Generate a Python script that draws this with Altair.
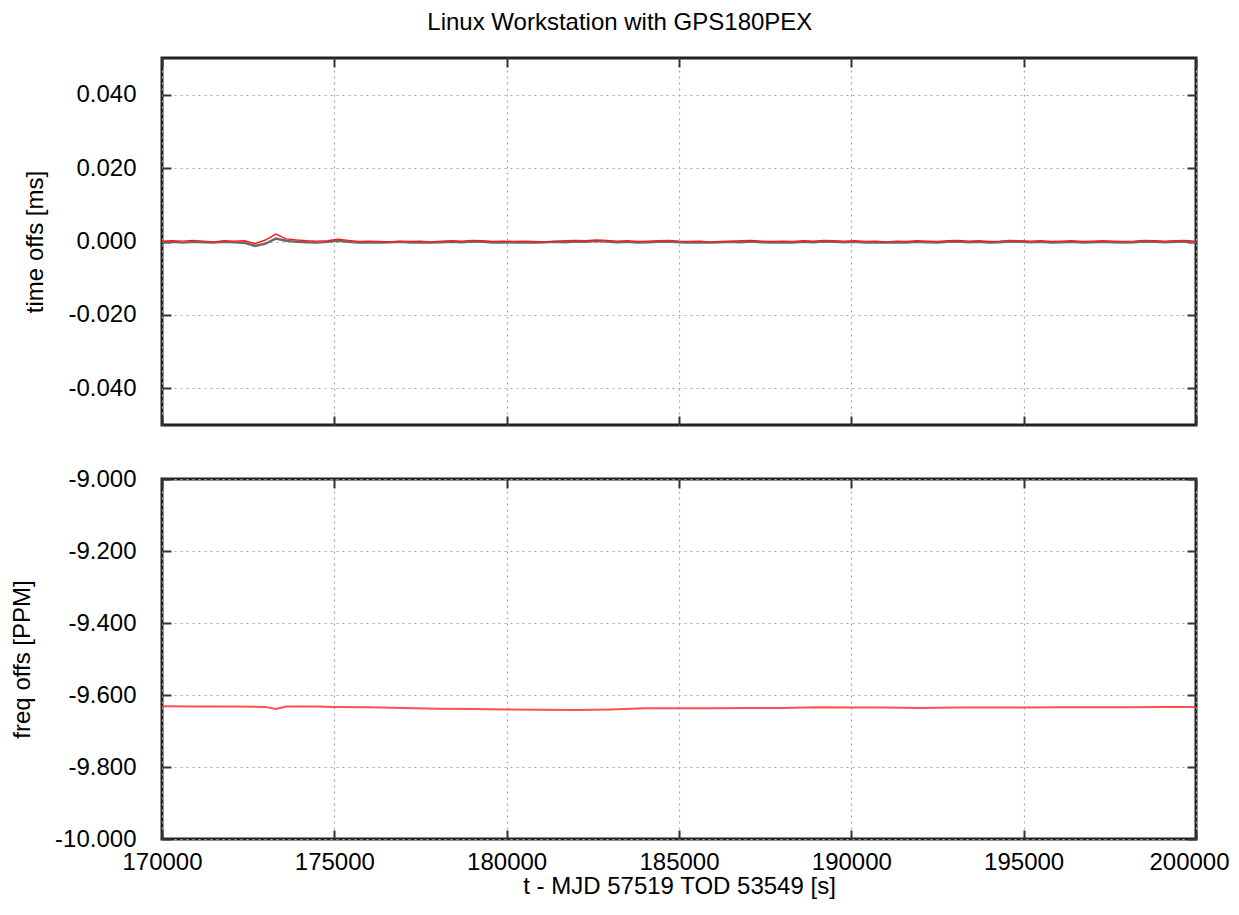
import altair as alt
import pandas as pd

# ---------------- data ----------------
t_x = [170000 + 300 * i for i in range(101)]

time_red = [
    0.0001, 0.0002, 0.0001, 0.0003, 0.0001, -0.0001, 0.0002, 0.0001, 0.0002, -0.0006,
    0.0004, 0.0020, 0.0007, 0.0004, 0.0002, 0.0001, 0.0002, 0.0006, 0.0003, 0.0000,
    0.0001, 0.0000, -0.0001, 0.0001, 0.0000, 0.0001, -0.0001, 0.0001, 0.0002, 0.0001,
    0.0003, 0.0002, 0.0000, 0.0001, 0.0000, 0.0001, 0.0000, -0.0001, 0.0001, 0.0002,
    0.0003, 0.0002, 0.0004, 0.0003, 0.0001, 0.0002, 0.0000, 0.0001, 0.0002, 0.0003,
    0.0001, 0.0000, 0.0001, -0.0001, 0.0000, 0.0001, 0.0002, 0.0003, 0.0001, 0.0000,
    0.0001, 0.0000, 0.0002, 0.0001, 0.0003, 0.0002, 0.0001, 0.0002, 0.0000, 0.0001,
    -0.0001, 0.0001, 0.0000, 0.0002, 0.0001, 0.0000, 0.0002, 0.0003, 0.0001, 0.0002,
    0.0000, 0.0001, 0.0003, 0.0002, 0.0001, 0.0002, 0.0000, 0.0001, 0.0002, 0.0000,
    0.0001, 0.0002, 0.0001, 0.0000, 0.0001, 0.0003, 0.0002, 0.0001, 0.0002, 0.0003,
    0.0000,
]

time_gray = [
    -0.0002, -0.0001, -0.0003, -0.0001, -0.0002, -0.0003, -0.0001, -0.0002, -0.0004, -0.0012,
    -0.0006, 0.0008, 0.0002, -0.0001, -0.0002, -0.0003, -0.0001, 0.0002, -0.0001, -0.0003,
    -0.0002, -0.0003, -0.0002, -0.0001, -0.0003, -0.0002, -0.0003, -0.0002, -0.0001, -0.0002,
    0.0000, -0.0001, -0.0003, -0.0002, -0.0003, -0.0002, -0.0003, -0.0002, -0.0001, -0.0002,
    0.0000, -0.0001, 0.0001, 0.0000, -0.0002, -0.0001, -0.0003, -0.0002, -0.0001, 0.0000,
    -0.0002, -0.0003, -0.0002, -0.0003, -0.0002, -0.0001, -0.0002, 0.0000, -0.0002, -0.0003,
    -0.0002, -0.0003, -0.0001, -0.0002, 0.0000, -0.0001, -0.0002, -0.0001, -0.0003, -0.0002,
    -0.0003, -0.0002, -0.0003, -0.0001, -0.0002, -0.0003, -0.0001, 0.0000, -0.0002, -0.0001,
    -0.0003, -0.0002, 0.0000, -0.0001, -0.0002, -0.0001, -0.0003, -0.0002, -0.0001, -0.0003,
    -0.0002, -0.0001, -0.0002, -0.0003, -0.0002, 0.0000, -0.0001, -0.0002, -0.0001, 0.0000,
    -0.0002,
]

f_x = [170000, 171000, 172000, 173000, 173300, 173600, 174500, 175000, 176000, 177000,
       178000, 179000, 180000, 181000, 182000, 183000, 184000, 185000, 186000, 187000,
       188000, 189000, 190000, 191000, 192000, 193000, 194000, 195000, 196000, 197000,
       198000, 199000, 200000]
freq = [-9.631, -9.632, -9.632, -9.633, -9.639, -9.632, -9.632, -9.633, -9.634, -9.636,
        -9.638, -9.639, -9.640, -9.641, -9.642, -9.640, -9.637, -9.637, -9.637, -9.636,
        -9.636, -9.634, -9.635, -9.635, -9.636, -9.635, -9.635, -9.635, -9.634, -9.634,
        -9.634, -9.633, -9.633]

x_ticks = [170000, 175000, 180000, 185000, 190000, 195000, 200000]
t_ticks = [-0.04, -0.02, 0.0, 0.02, 0.04]
f_ticks = [-10.0, -9.8, -9.6, -9.4, -9.2, -9.0]

df_t = pd.DataFrame({"x": t_x, "red": time_red, "gray": time_gray})
df_f = pd.DataFrame({"x": f_x, "freq": freq})

FONT = "Liberation Sans"
FS = 24
lbl = "replace(format(datum.value, '.3f'), '\u2212', '-')"
TK = 9          # inward tick length
TC = "#333333"

xs = alt.Scale(domain=[170000, 200000], nice=False, zero=False)
ts = alt.Scale(domain=[-0.05, 0.05], nice=False, zero=False)
fs = alt.Scale(domain=[-10, -9], nice=False, zero=False)


def mirror_x():
    return alt.Axis(orient="top", values=x_ticks, labels=False, grid=False, domain=False,
                    title=None, ticks=True, tickSize=TK, offset=-TK, tickColor=TC,
                    tickWidth=2, minExtent=0, maxExtent=0)


def mirror_y(vals):
    return alt.Axis(orient="right", values=vals, labels=False, grid=False, domain=False,
                    title=None, ticks=True, tickSize=TK, offset=-TK, tickColor=TC,
                    tickWidth=2, minExtent=0, maxExtent=0)


def main_y(vals, title):
    return alt.Axis(orient="left", values=vals, labelExpr=lbl, ticks=True, tickSize=TK,
                    offset=-TK, tickColor=TC, tickWidth=2, domain=False, title=title,
                    grid=True, labelPadding=26, titlePadding=20, labelFlush=False)


# ---------- top panel ----------
base_t = alt.Chart(df_t)
gray = base_t.mark_line(color="#6a6a6a", strokeWidth=2.4).encode(
    x=alt.X("x:Q", scale=xs,
            axis=alt.Axis(orient="bottom", values=x_ticks, labels=False, ticks=True,
                          tickSize=TK, offset=-TK, tickColor=TC, tickWidth=2,
                          domain=False, title=None, grid=True, minExtent=0, maxExtent=0)),
    y=alt.Y("gray:Q", scale=ts, axis=main_y(t_ticks, "time offs [ms]")),
)
red = base_t.mark_line(color="#ff1a1a", strokeWidth=1.4).encode(
    x=alt.X("x:Q", scale=xs, axis=mirror_x()),
    y=alt.Y("red:Q", scale=ts, axis=mirror_y(t_ticks)),
)
top = alt.layer(gray, red).resolve_axis(x="independent", y="independent").properties(
    width=1034, height=367)

# ---------- bottom panel ----------
base_f = alt.Chart(df_f)
fline = base_f.mark_line(color="#ff3030", strokeWidth=2, opacity=0.85).encode(
    x=alt.X("x:Q", scale=xs,
            axis=alt.Axis(orient="bottom", values=x_ticks, format="d", ticks=True,
                          tickSize=TK, offset=-TK, tickColor=TC, tickWidth=2,
                          domain=False, title="t - MJD 57519 TOD 53549 [s]", grid=True,
                          labelPadding=11, titlePadding=0, labelFlush=False,
                          labelOffset={"condition": {"test": "datum.value == 200000",
                                                     "value": -7},
                                       "value": 0})),
    y=alt.Y("freq:Q", scale=fs, axis=main_y(f_ticks, "freq offs [PPM]")),
)
fmirror = base_f.mark_line(opacity=0).encode(
    x=alt.X("x:Q", scale=xs, axis=mirror_x()),
    y=alt.Y("freq:Q", scale=fs, axis=mirror_y(f_ticks)),
)
bottom = alt.layer(fline, fmirror).resolve_axis(x="independent", y="independent").properties(
    width=1034, height=360)

chart = alt.vconcat(top, bottom, spacing=37).properties(
    title=alt.TitleParams("Linux Workstation with GPS180PEX", font=FONT, fontSize=FS,
                          fontWeight="normal", color="#000", anchor="middle", offset=21),
    background="white",
    padding={"left": 1, "right": 0, "top": 2, "bottom": 0},
).configure_view(
    stroke="#222", strokeWidth=3
).configure_axis(
    labelFont=FONT, labelFontSize=FS, labelColor="#000",
    titleFont=FONT, titleFontSize=FS, titleFontWeight="normal", titleColor="#000",
    gridColor="#a8a8a8", gridDash=[2, 4], gridWidth=1.2, gridOpacity=1,
)

chart.save("out.html", embed_options={"renderer": "svg", "actions": False})
